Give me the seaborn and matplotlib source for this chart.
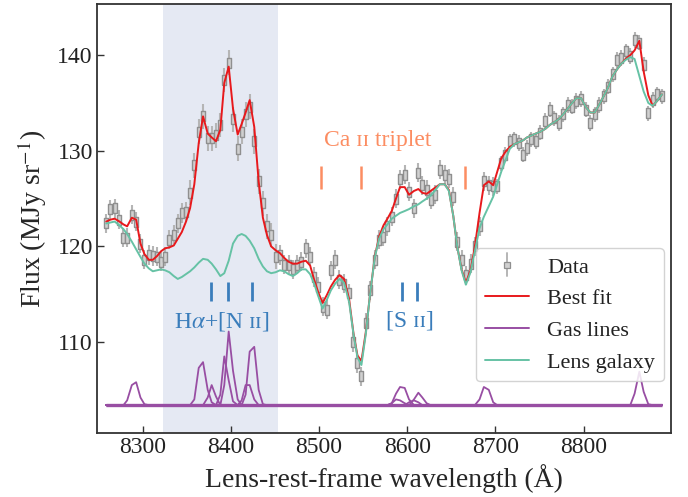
import numpy as np
import pandas as pd
import matplotlib
matplotlib.use("Agg")
import matplotlib.pyplot as plt
from matplotlib.lines import Line2D
from matplotlib.legend_handler import HandlerLine2D
import seaborn as sns

# Observed spectrum (lens rest frame)
wavelength = [
    8258.5, 8263.3, 8268.0, 8273.5, 8278.0, 8282.2, 8287.5, 8292.4, 8297.3, 8301.8,
    8306.8, 8311.3, 8316.2, 8320.7, 8325.3, 8330.1, 8335.1, 8339.6, 8344.2, 8349.0,
    8353.6, 8358.4, 8363.4, 8368.3, 8373.6, 8378.1, 8383.0, 8387.9, 8392.4, 8397.4,
    8402.3, 8407.6, 8412.1, 8416.6, 8421.2, 8426.4, 8431.4, 8436.2, 8440.8, 8445.6,
    8450.6, 8455.5, 8460.4, 8465.3, 8470.2, 8475.1, 8480.0, 8484.9, 8489.8, 8494.4,
    8499.0, 8503.9, 8508.7, 8513.3, 8518.1, 8523.1, 8528.3, 8534.0, 8539.0, 8543.5,
    8548.0, 8552.9, 8557.8, 8563.1, 8568.0, 8573.0, 8577.5, 8582.4, 8587.2, 8591.8,
    8597.1, 8602.0, 8607.6, 8612.6, 8617.1, 8622.0, 8626.5, 8631.0, 8637.0, 8642.4,
    8647.2, 8652.2, 8656.7, 8661.6, 8666.5, 8671.8, 8676.7, 8682.0, 8686.9, 8692.5,
    8697.5, 8702.0, 8706.6, 8711.4, 8716.3, 8721.6, 8726.5, 8731.5, 8736.0, 8740.9,
    8745.8, 8751.1, 8756.7, 8761.6, 8766.9, 8771.8, 8776.8, 8782.0, 8787.0, 8791.8,
    8797.2, 8802.4, 8807.7, 8812.6, 8817.6, 8822.8, 8827.7, 8832.9, 8837.9, 8842.8,
    8847.7, 8853.0, 8857.9, 8863.3, 8868.2, 8873.5, 8878.4, 8883.4, 8889.0,
]
flux = [
    122.4, 123.9, 124.0, 122.8, 120.9, 120.9, 123.3, 122.6, 120.3, 118.6,
    119.1, 119.0, 118.9, 118.4, 118.9, 120.7, 121.2, 122.4, 123.5, 123.6,
    125.6, 128.5, 132.0, 133.6, 131.3, 131.3, 131.6, 132.7, 137.4, 139.2,
    133.3, 130.2, 132.0, 133.8, 134.6, 131.0, 126.8, 124.5, 122.1, 121.2,
    118.9, 119.1, 118.1, 118.1, 117.6, 118.1, 118.4, 119.8, 118.9, 116.8,
    115.8, 113.7, 113.4, 117.5, 118.6, 116.5, 116.1, 115.1, 110.0, 107.8,
    106.4, 112.0, 115.4, 118.6, 120.7, 121.0, 122.1, 123.1, 125.0, 127.0,
    127.5, 125.7, 124.0, 127.7, 126.4, 125.9, 124.9, 125.4, 128.0, 127.5,
    127.1, 125.2, 120.5, 118.6, 117.0, 118.2, 120.0, 122.1, 126.8, 126.4,
    126.3, 126.3, 128.7, 129.6, 131.0, 131.2, 130.8, 129.6, 130.3, 131.2,
    131.0, 131.9, 133.1, 134.3, 133.4, 132.9, 133.8, 134.8, 134.6, 135.2,
    135.4, 134.3, 132.9, 133.8, 134.8, 135.7, 136.7, 138.0, 139.5, 139.7,
    140.4, 139.9, 141.6, 141.3, 139.0, 133.9, 135.3, 135.9, 135.7,
]
flux_err = [1.0] * 20 + [1.3] * 21 + [1.0] * 50 + [0.8] * 38

# Model components
best_fit = [
    122.6, 122.8, 122.9, 122.6, 122.3, 122.1, 123.0, 122.8, 120.3, 119.2,
    118.6, 118.6, 119.0, 119.5, 119.8, 119.9, 120.1, 120.8, 121.5, 122.6,
    124.0, 126.5, 130.8, 133.6, 131.8, 131.4, 131.0, 132.2, 137.1, 138.8,
    134.4, 131.7, 132.8, 134.0, 135.3, 132.5, 126.8, 123.0, 121.2, 120.0,
    119.6, 119.3, 118.8, 118.4, 118.2, 118.2, 118.4, 118.5, 118.0, 116.5,
    115.2, 114.1, 114.9, 115.8, 116.5, 117.0, 116.6, 114.5, 110.9, 108.6,
    108.0, 111.0, 115.0, 118.9, 121.0, 122.2, 122.9, 123.7, 125.0, 126.2,
    126.2, 125.4, 125.8, 126.0, 125.6, 125.5, 125.8, 126.1, 126.5, 126.5,
    125.9, 123.2, 120.0, 117.6, 116.2, 117.5, 120.0, 123.5, 126.4, 126.8,
    126.4, 127.8, 129.2, 129.9, 130.4, 130.7, 130.9, 131.1, 131.4, 131.6,
    131.8, 132.0, 132.3, 132.7, 133.0, 133.3, 133.8, 134.4, 135.0, 135.5,
    135.5, 134.6, 134.0, 134.0, 134.8, 135.7, 136.6, 137.8, 138.5, 139.1,
    139.6, 140.0, 140.5, 141.5, 138.3, 135.8, 134.7, 135.2, 135.9,
]
lens_galaxy = [
    122.4, 122.5, 122.6, 122.2, 121.8, 121.3, 120.5, 119.7, 118.9, 118.2,
    117.7, 117.4, 117.5, 117.6, 117.5, 117.3, 116.9, 116.6, 116.8, 117.1,
    117.4, 117.8, 118.3, 118.7, 118.6, 118.2, 117.6, 116.9, 117.2, 118.5,
    120.3, 121.1, 121.3, 121.1, 120.6, 119.8, 118.7, 117.9, 117.4, 117.2,
    117.3, 117.5, 117.4, 117.1, 116.9, 117.2, 117.6, 117.6, 117.1, 116.1,
    114.8, 113.5, 114.4, 115.4, 116.1, 116.6, 116.2, 114.2, 110.8, 108.4,
    107.6, 110.8, 115.0, 118.8, 120.8, 121.8, 122.3, 122.9, 123.2, 123.5,
    123.7, 123.9, 124.2, 124.4, 124.7, 125.0, 125.3, 125.8, 126.5, 126.5,
    125.8, 123.2, 120.0, 117.5, 116.0, 117.3, 119.5, 121.9, 123.1, 124.2,
    125.2, 126.5, 127.8, 129.0, 130.2, 130.7, 130.9, 131.1, 131.4, 131.6,
    131.8, 132.0, 132.3, 132.7, 133.0, 133.3, 133.8, 134.4, 135.0, 135.5,
    135.5, 134.6, 134.0, 134.0, 134.8, 135.7, 136.6, 137.8, 138.5, 139.1,
    139.5, 139.8, 139.6, 137.8, 136.2, 135.0, 134.7, 135.2, 135.9,
]

# Emission-line components, shown with a vertical offset
gas_offset = 103.4
gas_lines = {
    "8290": ([8278.0, 8282.2, 8287.5, 8292.4, 8297.3, 8301.8, 8306.8],
             [103.4, 103.9, 105.5, 105.8, 104.2, 103.5, 103.4]),
    "8367": ([8353.6, 8358.4, 8363.4, 8368.3, 8373.6, 8378.1, 8383.0],
             [103.4, 104.0, 107.3, 107.9, 105.0, 103.7, 103.4]),
    "8378": ([8368.3, 8373.6, 8378.1, 8383.0, 8387.9],
             [103.4, 104.2, 105.5, 104.3, 103.4]),
    "8392": ([8383.0, 8387.9, 8392.4, 8397.4, 8402.3, 8407.6],
             [103.4, 104.5, 108.5, 106.0, 103.8, 103.4]),
    "8398": ([8387.9, 8392.4, 8397.4, 8402.3, 8407.6, 8412.1],
             [103.4, 105.5, 111.1, 107.0, 104.0, 103.4]),
    "8419": ([8407.6, 8412.1, 8416.6, 8421.2, 8426.4, 8431.4],
             [103.4, 103.9, 105.5, 105.5, 104.0, 103.4]),
    "8426": ([8412.1, 8416.6, 8421.2, 8426.4, 8431.4, 8436.2, 8440.8],
             [103.4, 104.5, 109.0, 109.5, 105.0, 103.5, 103.4]),
    "8589": ([8577.5, 8582.4, 8587.2, 8591.8, 8597.1, 8602.0],
             [103.4, 103.6, 104.0, 103.9, 103.6, 103.4]),
    "8594": ([8577.5, 8582.4, 8587.2, 8591.8, 8597.1, 8602.0, 8607.6],
             [103.4, 103.6, 104.6, 105.3, 105.2, 104.0, 103.4]),
    "8607": ([8597.1, 8602.0, 8607.6, 8612.6, 8617.1],
             [103.4, 103.7, 103.9, 103.7, 103.4]),
    "8612": ([8602.0, 8607.6, 8612.6, 8617.1, 8622.0, 8626.5],
             [103.4, 104.0, 104.7, 104.2, 103.6, 103.4]),
    "8688": ([8676.7, 8682.0, 8686.9, 8692.5, 8697.5, 8702.0],
             [103.4, 104.0, 105.3, 105.0, 103.7, 103.4]),
    "8863": ([8853.0, 8857.9, 8863.3, 8868.2, 8873.5, 8878.4],
             [103.4, 104.6, 106.9, 104.8, 103.5, 103.4]),
}

# Line identifications
ca_triplet = [8502.0, 8547.0, 8666.0]
halpha_nii = [8377.4, 8397.0, 8423.8]
sii_doublet = [8594.4, 8611.4]
fit_window = [8323.3, 8452.9]

# Colours
c_data_edge = "#8f8f8f"
c_data_face = "#d0d0d0"
c_err = "#b5b5b5"
c_fit = "#e8191c"
c_gas = "#984ea3"
c_lens = "#66c2a5"
c_blue = "#3a7dbb"
c_orange = "#fc8d62"

sns.set_theme(style="ticks")
plt.rcParams["font.family"] = ["Liberation Serif", "DejaVu Serif"]
plt.rcParams["mathtext.fontset"] = "stix"

spec = pd.DataFrame({
    "wavelength": wavelength,
    "flux": flux,
    "err": flux_err,
    "best_fit": best_fit,
    "lens": lens_galaxy,
})

rows = []
for name, (wl, fx) in gas_lines.items():
    wl_full = [wavelength[0]] + wl + [wavelength[-1]]
    fx_full = [gas_offset] + fx + [gas_offset]
    for w, f in zip(wl_full, fx_full):
        rows.append({"component": name, "wavelength": w, "flux": f})
gas_df = pd.DataFrame(rows)

fig = plt.figure(figsize=(6.88, 4.97), dpi=100)
ax = fig.add_axes([0.141, 0.129, 0.834, 0.862])

ax.axvspan(fit_window[0], fit_window[1], color="#e5e9f3", lw=0, zorder=0)

# tall box marker for the spectral bins
box = [(-1, -2.2), (1, -2.2), (1, 2.2), (-1, 2.2), (-1, -2.2)]
ax.errorbar(spec["wavelength"], spec["flux"], yerr=spec["err"], fmt="none",
            ecolor=c_err, elinewidth=1.5, zorder=2)
sns.scatterplot(data=spec, x="wavelength", y="flux", marker=box, s=52,
                color=c_data_face, edgecolor=c_data_edge, linewidth=1.0,
                ax=ax, zorder=3, legend=False)

sns.lineplot(data=gas_df, x="wavelength", y="flux", units="component",
             estimator=None, sort=False, color=c_gas, lw=1.3, ax=ax,
             zorder=4, legend=False)
ax.plot([wavelength[0], wavelength[-1]], [gas_offset, gas_offset],
        color=c_gas, lw=2.4, solid_capstyle="butt", zorder=4)
sns.lineplot(data=spec, x="wavelength", y="best_fit", estimator=None,
             sort=False, color=c_fit, lw=1.4, ax=ax, zorder=5, legend=False)
sns.lineplot(data=spec, x="wavelength", y="lens", estimator=None,
             sort=False, color=c_lens, lw=1.4, ax=ax, zorder=6, legend=False)

# line markers and labels
ax.vlines(halpha_nii, 114.3, 116.3, color=c_blue, lw=2)
ax.vlines(sii_doublet, 114.3, 116.3, color=c_blue, lw=2)
ax.vlines(ca_triplet, 126.0, 128.4, color=c_orange, lw=1.8)
ax.text(8390, 112.2, "H$\\alpha$+[N ɪɪ]", color=c_blue, fontsize=17,
        ha="center", va="center")
ax.text(8603, 112.2, "[S ɪɪ]", color=c_blue, fontsize=17,
        ha="center", va="center")
ax.text(8567, 131.1, "Ca ɪɪ triplet", color=c_orange, fontsize=17,
        ha="center", va="center")

ax.set_xlim(8248, 8899)
ax.set_ylim(100.5, 145.3)
ax.set_xticks([8300, 8400, 8500, 8600, 8700, 8800])
ax.set_yticks([110, 120, 130, 140])
ax.set_xlabel("Lens-rest-frame wavelength (Å)", fontsize=20, labelpad=4)
ax.set_ylabel("Flux (MJy sr$^{-1}$)", fontsize=20, labelpad=6)
ax.tick_params(direction="in", length=5, width=1, labelsize=17,
               colors="#333333", labelcolor="#222222", pad=3)
for s in ax.spines.values():
    s.set_visible(True)
    s.set_color("#333333")
    s.set_linewidth(1.3)

# legend
data_proxy = Line2D([], [], color=c_err, lw=1.4, marker="s", ms=5,
                    mfc=c_data_face, mec=c_data_edge, mew=0.9)
handles = [
    data_proxy,
    Line2D([], [], color=c_fit, lw=1.4),
    Line2D([], [], color=c_gas, lw=1.4),
    Line2D([], [], color=c_lens, lw=1.4),
]
labels = ["Data", "Best fit", "Gas lines", "Lens galaxy"]


class VerticalBar(HandlerLine2D):
    def create_artists(self, legend, orig_handle, xdescent, ydescent,
                       width, height, fontsize, trans):
        cx = width / 2 - xdescent
        cy = height / 2 - ydescent
        bar = Line2D([cx, cx], [cy - 0.75 * height, cy + 0.75 * height],
                     color=c_err, lw=1.4, transform=trans)
        mark = Line2D([cx], [cy], marker="s", ms=5, mfc=c_data_face,
                      mec=c_data_edge, mew=0.9, ls="none", transform=trans)
        return [bar, mark]


leg = ax.legend(handles, labels, loc="lower right",
                bbox_to_anchor=(0.988, 0.12), borderaxespad=0,
                fontsize=16, frameon=True, fancybox=True, framealpha=0.85,
                edgecolor="#cccccc", handler_map={data_proxy: VerticalBar()})
for t in leg.get_texts():
    t.set_color("#222222")

fig.savefig("out.png", dpi=100)
